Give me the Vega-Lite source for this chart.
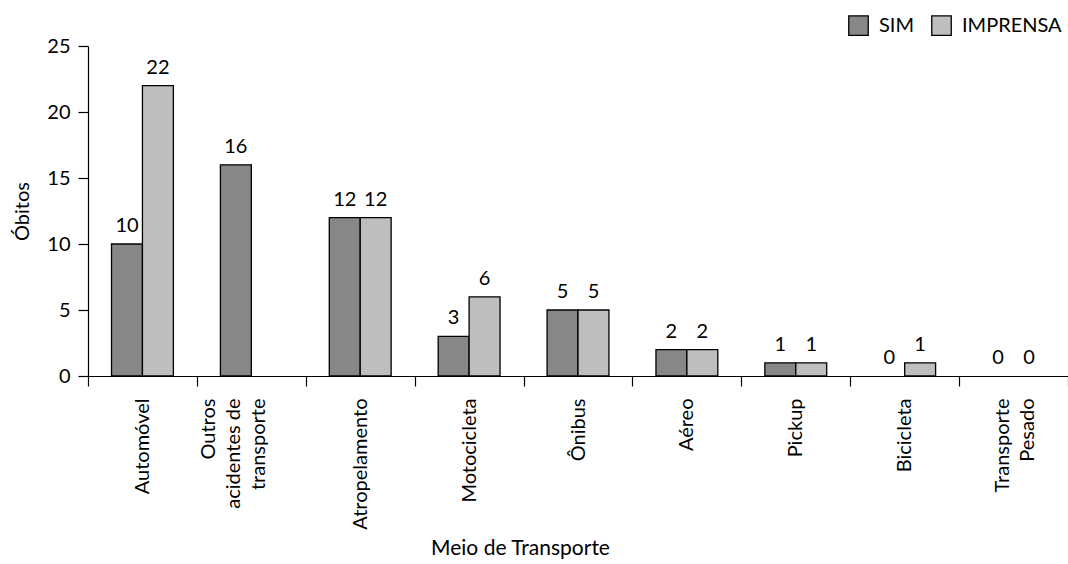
{
  "$schema": "https://vega.github.io/schema/vega-lite/v6.json",
  "autosize": {"type": "none"},
  "padding": {"left": 88, "top": 46, "right": 0, "bottom": 188},
  "width": 980,
  "height": 330,
  "background": "white",
  "config": {
    "view": {"stroke": null},
    "font": "Lato",
    "axis": {"grid": false, "domainColor": "black", "tickColor": "black", "labelColor": "black", "titleColor": "black", "labelFont": "Lato", "titleFont": "Lato", "titleFontWeight": "normal", "domainWidth": 1.2, "tickWidth": 1.2}
  },
  "data": {
    "values": [
      {"Meio": "Automóvel", "Fonte": "SIM", "Obitos": 10},
      {"Meio": "Automóvel", "Fonte": "IMPRENSA", "Obitos": 22},
      {"Meio": "Outros acidentes de transporte", "Fonte": "SIM", "Obitos": 16},
      {"Meio": "Outros acidentes de transporte", "Fonte": "IMPRENSA", "Obitos": null},
      {"Meio": "Atropelamento", "Fonte": "SIM", "Obitos": 12},
      {"Meio": "Atropelamento", "Fonte": "IMPRENSA", "Obitos": 12},
      {"Meio": "Motocicleta", "Fonte": "SIM", "Obitos": 3},
      {"Meio": "Motocicleta", "Fonte": "IMPRENSA", "Obitos": 6},
      {"Meio": "Ônibus", "Fonte": "SIM", "Obitos": 5},
      {"Meio": "Ônibus", "Fonte": "IMPRENSA", "Obitos": 5},
      {"Meio": "Aéreo", "Fonte": "SIM", "Obitos": 2},
      {"Meio": "Aéreo", "Fonte": "IMPRENSA", "Obitos": 2},
      {"Meio": "Pickup", "Fonte": "SIM", "Obitos": 1},
      {"Meio": "Pickup", "Fonte": "IMPRENSA", "Obitos": 1},
      {"Meio": "Bicicleta", "Fonte": "SIM", "Obitos": 0},
      {"Meio": "Bicicleta", "Fonte": "IMPRENSA", "Obitos": 1},
      {"Meio": "Transporte Pesado", "Fonte": "SIM", "Obitos": 0},
      {"Meio": "Transporte Pesado", "Fonte": "IMPRENSA", "Obitos": 0}
    ]
  },
  "encoding": {
    "x": {
      "field": "Meio", "type": "nominal", "sort": null,
      "scale": {"paddingInner": 0, "paddingOuter": 0},
      "axis": {
        "title": "Meio de Transporte",
        "titleFontSize": 21,
        "titleX": 432,
        "titleY": 172,
        "titleAlign": "center",
        "titleBaseline": "middle",
        "labelAngle": -90,
        "labelFontSize": 20,
        "labelPadding": 12,
        "labelLineHeight": 25,
        "tickSize": 10,
        "tickBand": "extent",
        "labelOffset": {"expr": "datum.value == 'Outros acidentes de transporte' ? -43 : datum.value == 'Transporte Pesado' ? -11 : 0"},
        "labelExpr": "datum.value == 'Outros acidentes de transporte' ? ['Outros', 'acidentes de', 'transporte'] : datum.value == 'Transporte Pesado' ? ['Transporte', 'Pesado'] : datum.value"
      }
    },
    "xOffset": {
      "field": "Fonte", "type": "nominal",
      "scale": {"domain": ["SIM", "IMPRENSA"], "paddingInner": 0, "paddingOuter": 0.76}
    },
    "y": {
      "field": "Obitos", "type": "quantitative",
      "scale": {"domain": [0, 25], "nice": false},
      "axis": {"title": "Óbitos", "titleFontSize": 20, "titlePadding": 14, "labelFontSize": 20, "values": [0, 5, 10, 15, 20, 25], "tickSize": 10, "labelPadding": 8}
    }
  },
  "layer": [
    {
      "mark": {"type": "bar", "strokeWidth": 1.3},
      "encoding": {
        "stroke": {"condition": {"test": "datum.Obitos == 0", "value": null}, "value": "black"},
        "color": {
          "field": "Fonte", "type": "nominal",
          "scale": {"domain": ["SIM", "IMPRENSA"], "range": ["#878787", "#bebebe"]},
          "legend": {
            "title": null, "orient": "none", "direction": "horizontal",
            "legendX": 760, "legendY": -31,
            "symbolType": "square", "symbolSize": 380, "symbolStrokeColor": "black", "symbolStrokeWidth": 1.3,
            "labelFontSize": 20, "labelColor": "black", "columnPadding": 14, "labelOffset": 10
          }
        }
      }
    },
    {
      "mark": {"type": "text", "baseline": "bottom", "dy": -8, "fontSize": 20, "color": "black"},
      "encoding": {"text": {"field": "Obitos", "type": "quantitative"}}
    }
  ]
}
